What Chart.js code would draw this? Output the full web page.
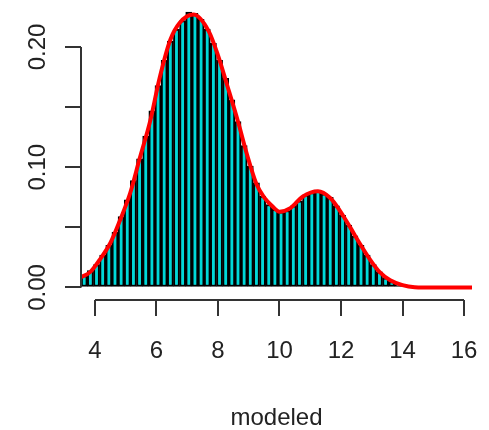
<!DOCTYPE html>
<html>
<head>
<meta charset="utf-8">
<script src="https://cdn.jsdelivr.net/npm/chart.js@4/dist/chart.umd.min.js"></script>
<style>
  body { margin: 0; background: #fff; }
</style>
</head>
<body>
<canvas id="hist" width="489" height="430"></canvas>
<script>
// histogram bin midpoints (bin width 0.2)
var binMids = [
    3.65, 3.85, 4.05, 4.25, 4.45, 4.65, 4.85, 5.05, 5.25, 5.45,
    5.65, 5.85, 6.05, 6.25, 6.45, 6.65, 6.85, 7.05, 7.25, 7.45,
    7.65, 7.85, 8.05, 8.25, 8.45, 8.65, 8.85, 9.05, 9.25, 9.45,
    9.65, 9.85, 10.05, 10.25, 10.45, 10.65, 10.85, 11.05, 11.25, 11.45,
    11.65, 11.85, 12.05, 12.25, 12.45, 12.65, 12.85, 13.05, 13.25, 13.45,
    13.65, 13.85, 14.05, 14.25
];
var binDensity = [
    0.010, 0.014, 0.019, 0.027, 0.035, 0.046, 0.059, 0.073, 0.089, 0.107,
    0.126, 0.147, 0.168, 0.189, 0.205, 0.215, 0.222, 0.229, 0.228, 0.223,
    0.215, 0.203, 0.189, 0.174, 0.156, 0.138, 0.118, 0.101, 0.087, 0.076,
    0.069, 0.065, 0.063, 0.064, 0.068, 0.072, 0.077, 0.079, 0.080, 0.078,
    0.075, 0.068, 0.060, 0.052, 0.043, 0.035, 0.027, 0.019, 0.013, 0.008,
    0.005, 0.003, 0.0017, 0.0008
];

// kernel density estimate, sampled
var densX = [3.5, 3.85, 4.15, 4.5, 4.8, 5.15, 5.45, 5.8, 6.1, 6.45, 6.75, 7.2,
    7.7, 8.0, 8.3, 8.65, 8.95, 9.25, 9.5, 9.75, 10.0, 10.35, 10.75, 11.25, 11.65,
    11.95, 12.3, 12.6, 12.95, 13.25, 13.6, 14.0, 14.4, 15.0, 16.4];
var densY = [0.008, 0.013, 0.023, 0.037, 0.055, 0.079, 0.107, 0.139, 0.174, 0.206, 0.220, 0.227,
    0.213, 0.193, 0.168, 0.138, 0.110, 0.086, 0.075, 0.068, 0.063, 0.066, 0.0755, 0.080, 0.0744,
    0.0644, 0.050, 0.037, 0.023, 0.013, 0.006, 0.002, 0.0003, 0, 0];

var xTicks = [4, 6, 8, 10, 12, 14, 16];
var yTicks = [0, 0.05, 0.10, 0.15, 0.20];
var yLabeled = ['0.00', '0.10', '0.20'];
var xTitle = 'modeled';

var axisFont = { family: 'Liberation Sans, Arial, sans-serif', size: 24 };

// R style axis lines: only from first to last tick
var rAxes = {
    id: 'rAxes',
    afterDraw: function(chart) {
        var ctx = chart.ctx;
        var xs = chart.scales.x, ys = chart.scales.y;
        ctx.save();
        ctx.strokeStyle = '#333';
        ctx.lineWidth = 2;
        ctx.beginPath();
        ctx.moveTo(xs.getPixelForValue(xTicks[0]), xs.top);
        ctx.lineTo(xs.getPixelForValue(xTicks[xTicks.length - 1]), xs.top);
        ctx.moveTo(ys.right, ys.getPixelForValue(yTicks[0]));
        ctx.lineTo(ys.right, ys.getPixelForValue(yTicks[yTicks.length - 1]));
        ctx.stroke();
        ctx.restore();
    }
};

var barData = binMids.map(function(x, i) { return { x: x, y: binDensity[i] }; });
var lineData = densX.map(function(x, i) { return { x: x, y: densY[i] }; });

new Chart(document.getElementById('hist').getContext('2d'), {
    type: 'bar',
    data: {
        datasets: [{
            type: 'line',
            data: lineData,
            borderColor: '#ff0000',
            borderWidth: 4,
            pointRadius: 0,
            cubicInterpolationMode: 'monotone',
            order: 0
        }, {
            type: 'bar',
            data: barData,
            backgroundColor: '#00d8d8',
            borderColor: '#000',
            borderWidth: 2,
            borderSkipped: false,
            barPercentage: 1,
            categoryPercentage: 1,
            order: 1
        }]
    },
    options: {
        responsive: false,
        animation: false,
        layout: { padding: { left: 0, right: 17, top: 0, bottom: 0 } },
        plugins: { legend: { display: false }, tooltip: { enabled: false } },
        scales: {
            x: {
                type: 'linear',
                min: 3.545,
                max: 16.26,
                offset: false,
                grid: { offset: false, drawOnChartArea: false, drawTicks: true, tickLength: 16, color: '#333', lineWidth: 2 },
                border: { display: false },
                afterBuildTicks: function(scale) {
                    scale.ticks = xTicks.map(function(v) { return { value: v }; });
                },
                afterFit: function(scale) {
                    scale.height = 130;
                    scale.paddingLeft = 0;
                    scale.paddingRight = 0;
                },
                ticks: {
                    autoSkip: false,
                    maxRotation: 0,
                    padding: 21,
                    color: '#222',
                    font: axisFont,
                    callback: function(v) { return String(v); }
                },
                title: {
                    display: true,
                    text: xTitle,
                    color: '#222',
                    font: axisFont,
                    padding: { top: 0, bottom: -3 }
                }
            },
            y: {
                min: -0.0104,
                max: 0.2391,
                grid: { drawOnChartArea: false, drawTicks: true, tickLength: 16, color: '#333', lineWidth: 2 },
                border: { display: false },
                afterBuildTicks: function(scale) {
                    scale.ticks = yTicks.map(function(v) { return { value: v }; });
                },
                afterFit: function(scale) {
                    scale.width = 81;
                    scale.paddingTop = 0;
                    scale.paddingBottom = 0;
                },
                ticks: {
                    autoSkip: false,
                    minRotation: 90,
                    maxRotation: 90,
                    crossAlign: 'center',
                    padding: 3,
                    color: '#222',
                    font: axisFont,
                    callback: function(v) {
                        var s = v.toFixed(2);
                        return yLabeled.indexOf(s) >= 0 ? s : '';
                    }
                }
            }
        }
    },
    plugins: [rAxes]
});
</script>
</body>
</html>
